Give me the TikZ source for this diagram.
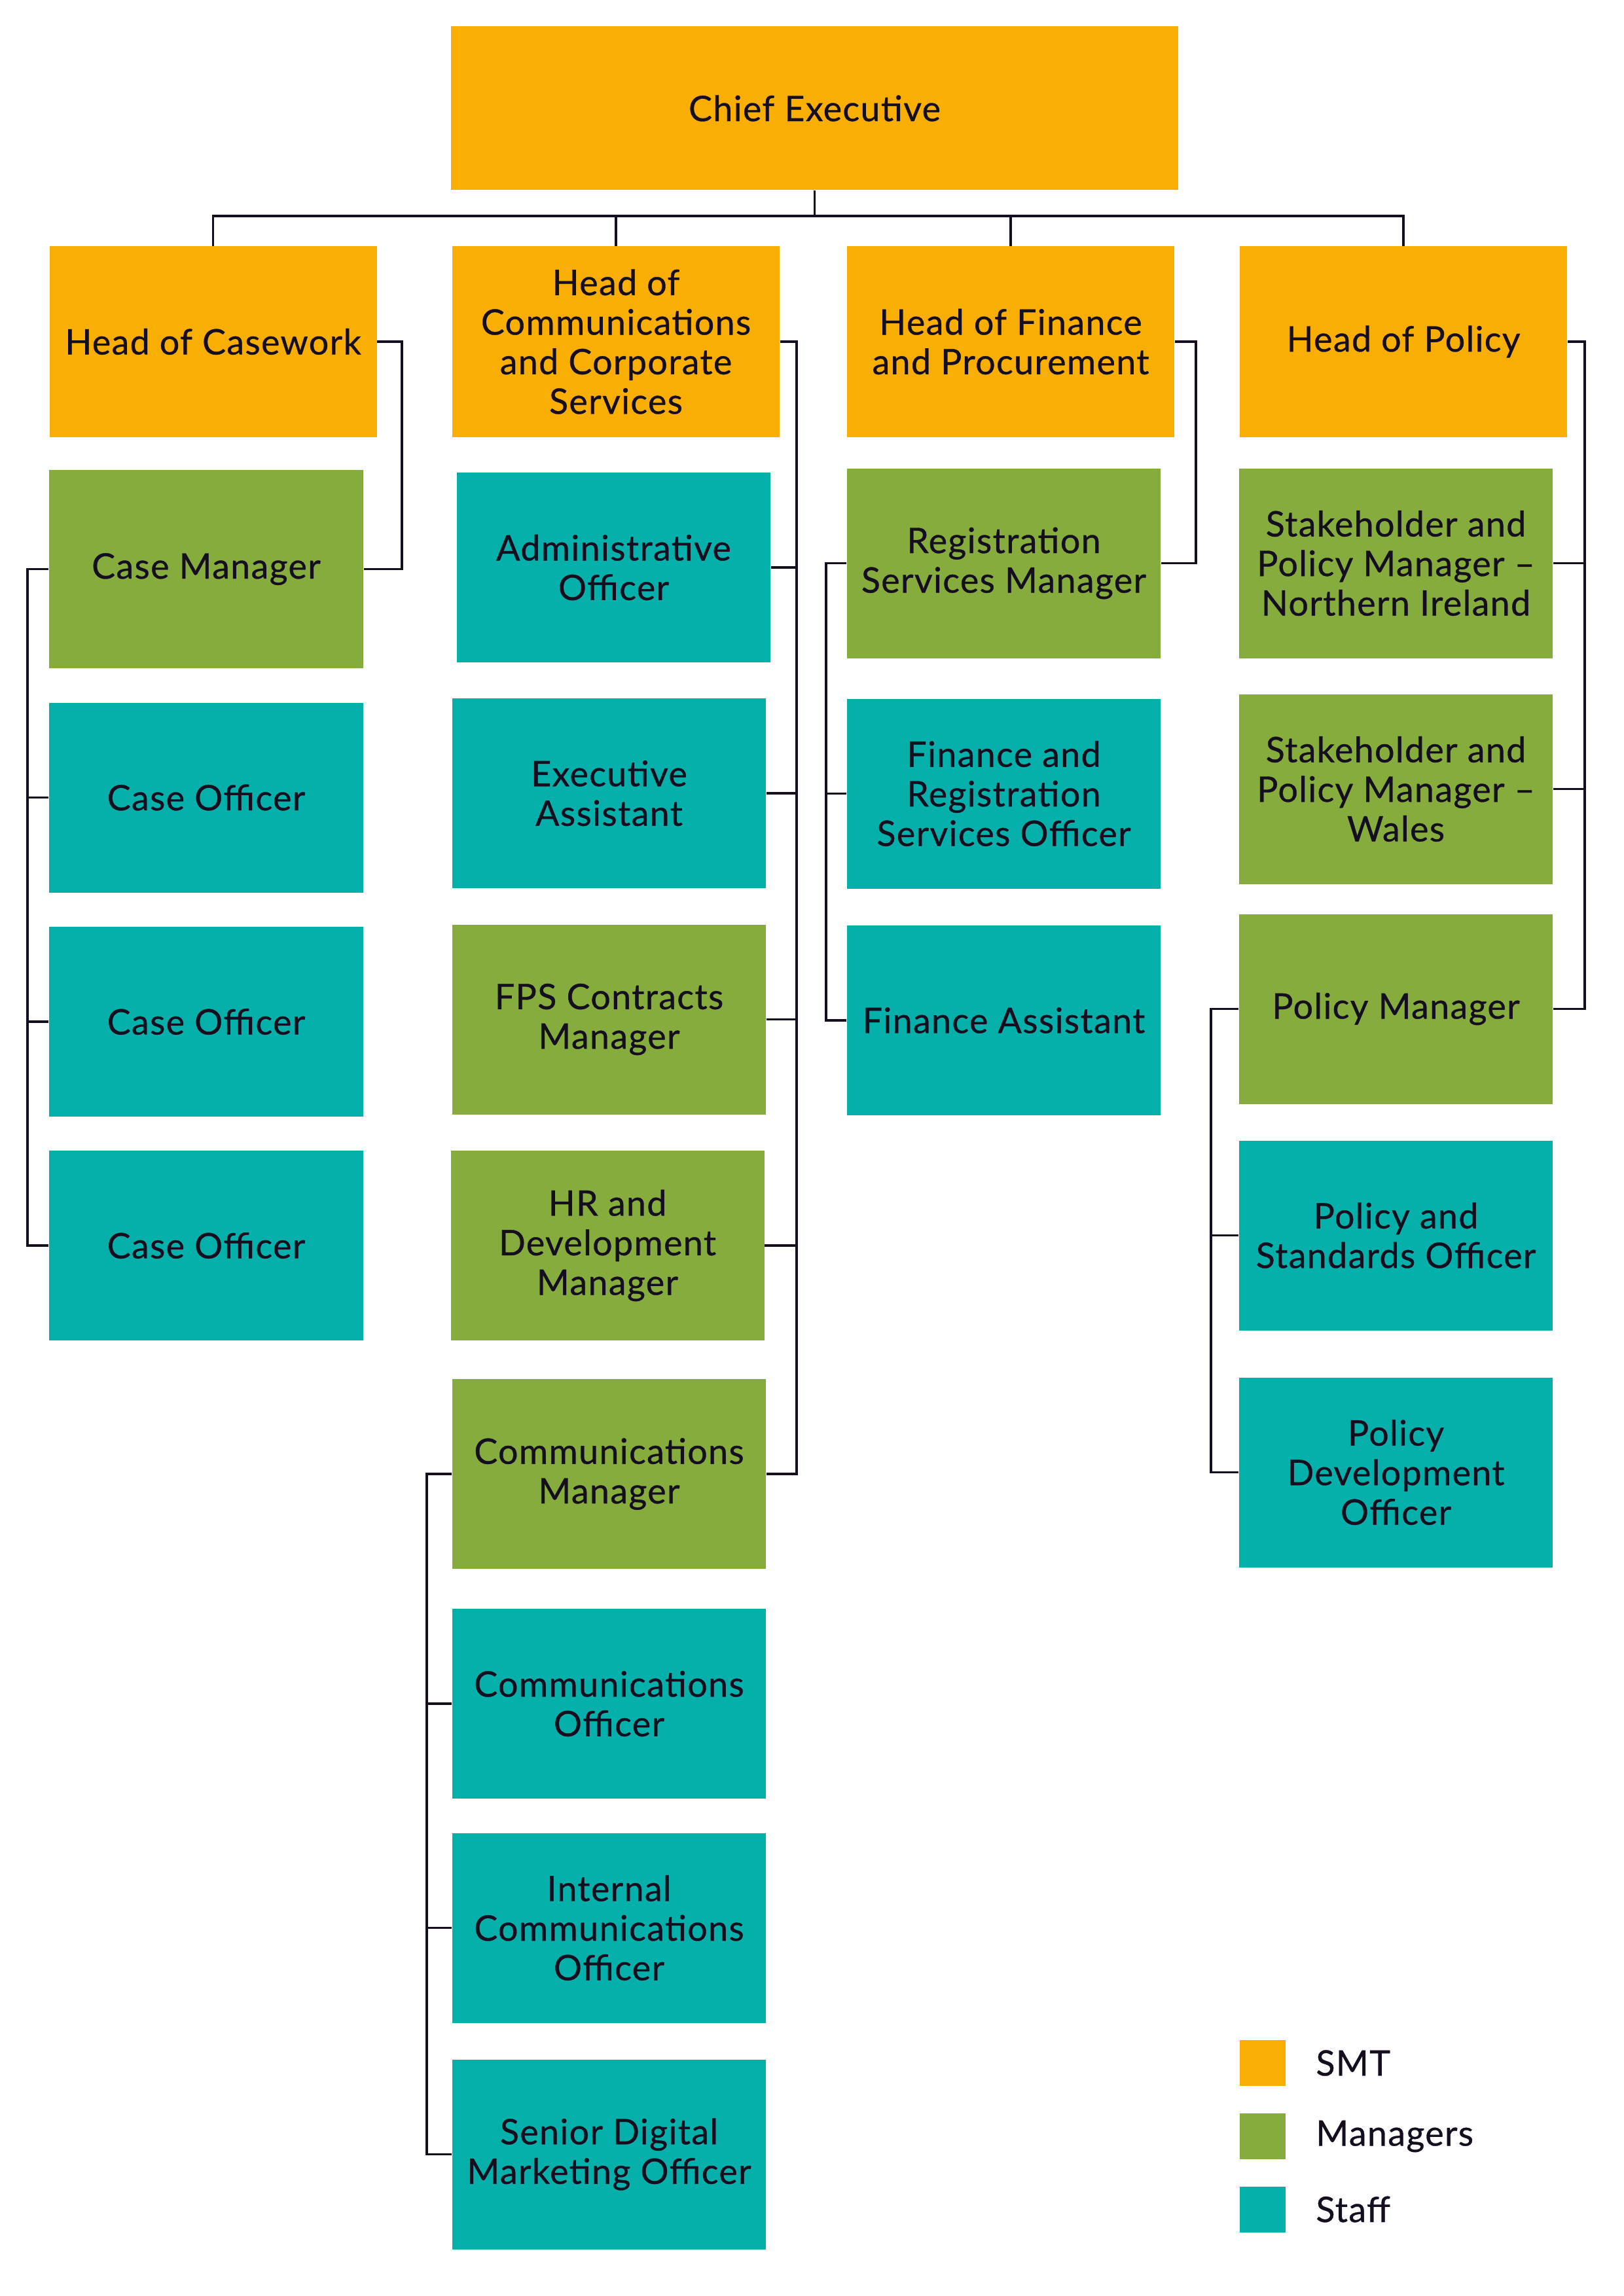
\documentclass[tikz,border=0pt]{standalone}
\usepackage{fontspec}
\setmainfont{Lato}[LetterSpace=2.5, FakeBold=0.6]
\usepackage{xcolor}
\usepackage{tikz}
\usetikzlibrary{positioning}
\definecolor{smtcol}{HTML}{F9AE04}
\definecolor{mgrcol}{HTML}{87AC3E}
\definecolor{stfcol}{HTML}{06B0AA}
\definecolor{ink}{HTML}{140E1E}

\tikzset{
  box/.style={rectangle, inner sep=0pt, minimum width=4.79cm, minimum height=2.90cm,
    align=center, text=ink, font=\fontsize{15.3}{17.2}\selectfont},
  smt/.style={box, fill=smtcol, minimum width=5.00cm, minimum height=2.91cm},
  mgr/.style={box, fill=mgrcol},
  stf/.style={box, fill=stfcol},
  link/.style={draw=ink, line width=1.1pt},
  keysq/.style={rectangle, inner sep=0pt, minimum size=0.70cm},
  keytext/.style={anchor=west, inner sep=0pt, text=ink, font=\fontsize{15.3}{17.2}\selectfont},
}

\begin{document}
\begin{tikzpicture}
\useasboundingbox (0,0) rectangle (24.8,-35.08);
% SMT
\node[smt, minimum width=11.11cm, minimum height=2.50cm] (chief) at (12.445,-1.655) {Chief Executive};
\node[smt] (casework) at (3.255,-5.22) {Head of Casework};
\node[smt] (comms) at (9.41,-5.22) {Head of\\Communications\\and Corporate\\Services};
\node[smt] (finance) at (15.44,-5.22) {Head of Finance\\and Procurement};
\node[smt] (policy) at (21.44,-5.22) {Head of Policy};
% Casework
\node[mgr, minimum width=4.80cm, minimum height=3.03cm] (casemgr) at (3.15,-8.695) {Case Manager};
\foreach \n/\y in {caseoffa/12.185, caseoffb/15.61, caseoffc/19.03}
  \node[stf, minimum width=4.80cm] (\n) at (3.15,-\y) {Case Officer};
% Communications and Corporate Services
\node[stf] (admin) at (9.375,-8.67) {Administrative\\Officer};
\node[stf] (execa) at (9.305,-12.12) {Executive\\Assistant};
\node[mgr] (fps) at (9.305,-15.575) {FPS Contracts\\Manager};
\node[mgr] (hr) at (9.28,-19.03) {HR and\\Development\\Manager};
\node[mgr] (commsmgr) at (9.305,-22.52) {Communications\\Manager};
\node[stf] (commsoff) at (9.305,-26.03) {Communications\\Officer};
\node[stf] (intcomms) at (9.305,-29.455) {Internal\\Communications\\Officer};
\node[stf] (digital) at (9.305,-32.915) {Senior Digital\\Marketing Officer};
% Finance and Procurement
\node[mgr] (regmgr) at (15.335,-8.605) {Registration\\Services Manager};
\node[stf] (regoff) at (15.335,-12.125) {Finance and\\Registration\\Services Officer};
\node[stf] (finasst) at (15.335,-15.59) {Finance Assistant};
% Policy
\node[mgr] (spmni) at (21.325,-8.605) {Stakeholder and\\Policy Manager –\\Northern Ireland};
\node[mgr] (spmwales) at (21.325,-12.055) {Stakeholder and\\Policy Manager –\\Wales};
\node[mgr] (polmgr) at (21.325,-15.415) {Policy Manager};
\node[stf] (stdoff) at (21.325,-18.875) {Policy and\\Standards Officer};
\node[stf] (devoff) at (21.325,-22.495) {Policy\\Development\\Officer};

% Connectors
\foreach \h in {casework,comms,finance,policy}
  \draw[link] (chief.south) -- ++(0,-0.385) -| (\h.north);
\draw[link] (casework.east) -- ++(0.375,0) |- (casemgr.east);
\foreach \c in {admin,execa,fps,hr,commsmgr}
  \draw[link] (comms.east) -- ++(0.255,0) |- (\c.east);
\draw[link] (finance.east) -- ++(0.32,0) |- (regmgr.east);
\foreach \c in {spmni,spmwales,polmgr}
  \draw[link] (policy.east) -- ++(0.26,0) |- (\c.east);
\foreach \c in {caseoffa,caseoffb,caseoffc}
  \draw[link] (casemgr.west) -- ++(-0.325,0) |- (\c.west);
\foreach \c in {commsoff,intcomms,digital}
  \draw[link] (commsmgr.west) -- ++(-0.38,0) |- (\c.west);
\foreach \c in {regoff,finasst}
  \draw[link] (regmgr.west) -- ++(-0.31,0) |- (\c.west);
\foreach \c in {stdoff,devoff}
  \draw[link] (polmgr.west) -- ++(-0.42,0) |- (\c.west);

% Key
\node[keysq, fill=smtcol] (keysmt) at (19.29,-31.52) {};
\node[keysq, fill=mgrcol] (keymgr) at (19.29,-32.64) {};
\node[keysq, fill=stfcol] (keystf) at (19.29,-33.755) {};
\node[keytext, right=0.45cm of keysmt] (labsmt) {SMT};
\node[keytext, right=0.45cm of keymgr] (labmgr) {Managers};
\node[keytext, right=0.45cm of keystf] (labstf) {Staff};
\end{tikzpicture}
\end{document}
